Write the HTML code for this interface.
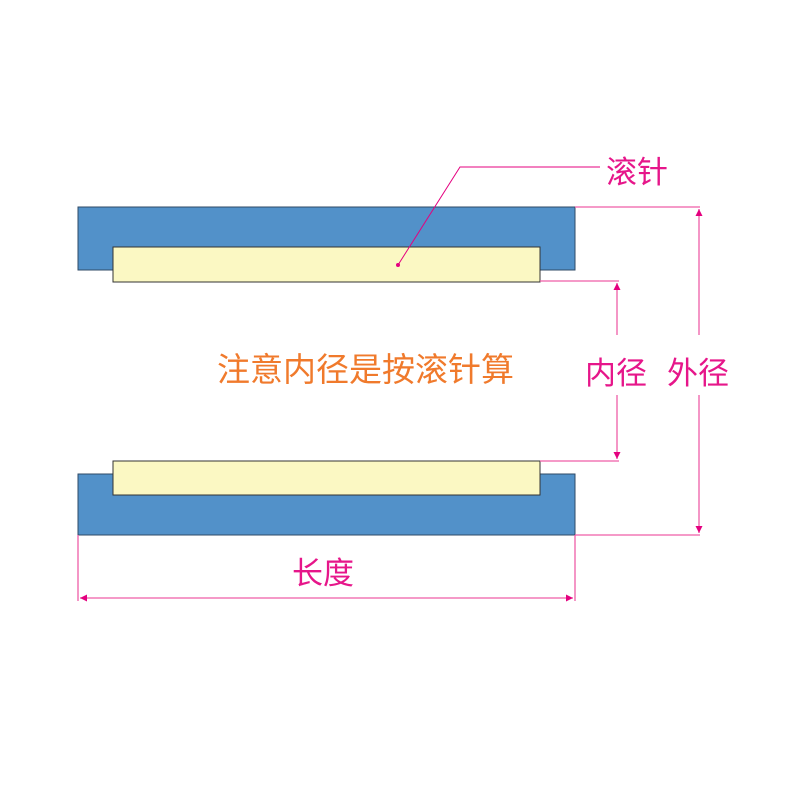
<!DOCTYPE html>
<html><head><meta charset="utf-8"><style>
body{margin:0;background:#fff}
svg text{font-family:"Liberation Sans","Noto Sans CJK SC",sans-serif}
</style></head><body>
<svg width="797" height="797" viewBox="0 0 797 797" xmlns="http://www.w3.org/2000/svg">
<defs>
<marker id="a" viewBox="0 0 10 10" refX="10" refY="5" markerWidth="14" markerHeight="7" orient="auto-start-reverse" markerUnits="userSpaceOnUse">
<path d="M0,0 L10,5 L0,10 Z" fill="#e4007f"/></marker>
</defs>
<rect x="78" y="207" width="497" height="63" fill="#5291c9" stroke="#2f4a66" stroke-width="1"/>
<rect x="113" y="247" width="427" height="35" fill="#fbf8c3" stroke="#333" stroke-width="1"/>
<rect x="78" y="474" width="497" height="61" fill="#5291c9" stroke="#2f4a66" stroke-width="1"/>
<rect x="113" y="461" width="427" height="34" fill="#fbf8c3" stroke="#333" stroke-width="1"/>
<g stroke="#ef5ea8" stroke-width="1.3" fill="none">
<line x1="575" y1="207" x2="700" y2="207"/>
<line x1="575" y1="535" x2="700" y2="535"/>
<line x1="699" y1="209" x2="699" y2="533" marker-start="url(#a)" marker-end="url(#a)"/>
<line x1="540" y1="281" x2="619" y2="281"/>
<line x1="540" y1="461" x2="619" y2="461"/>
<line x1="617" y1="283" x2="617" y2="459" marker-start="url(#a)" marker-end="url(#a)"/>
<line x1="78" y1="535" x2="78" y2="601"/>
<line x1="575" y1="535" x2="575" y2="601"/>
<line x1="80" y1="598" x2="573" y2="598" marker-start="url(#a)" marker-end="url(#a)"/>
<polyline points="398,265 460,167 600,167" stroke="#e4007f" stroke-width="1"/>
</g>
<circle cx="398" cy="265" r="2" fill="#e4007f"/>
<rect x="586" y="335" width="62" height="60" fill="#fff"/>
<rect x="666" y="335" width="70" height="60" fill="#fff"/>
<g fill="#e6168a" font-size="31">
<text x="606" y="183">滚针</text>
<text x="585" y="384">内径</text>
<text x="667" y="384">外径</text>
<text x="292" y="584">长度</text>
</g>
<text x="217" y="381" font-size="33" fill="#f07a2c">注意内径是按滚针算</text>
</svg>
</body></html>
